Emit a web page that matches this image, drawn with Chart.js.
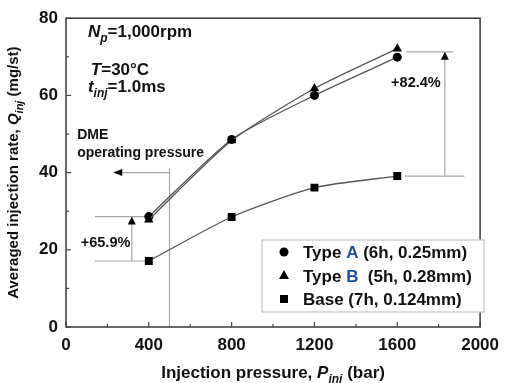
<!DOCTYPE html>
<html lang="en">
<head>
<meta charset="UTF-8" />
<title>Averaged injection rate vs injection pressure</title>
<script src="https://cdn.jsdelivr.net/npm/chart.js"></script>
<style>
  html, body { margin: 0; padding: 0; background: #fff; }
</style>
</head>
<body>
<canvas id="chart" width="507" height="383"></canvas>
<script>
// data
const pressure = [400, 800, 1200, 1600];
const typeA = [28.6, 48.6, 60.0, 69.9];
const typeB = [27.8, 48.3, 61.8, 72.1];
const base = [17.1, 28.5, 36.1, 39.1];
const seriesNames = ['Type A', 'Type B', 'Base'];
const seriesSpecs = [' (6h, 0.25mm)', '  (5h, 0.28mm)', ' (7h, 0.124mm)'];
const xTicks = [0, 400, 800, 1200, 1600, 2000];
const xMinor = [200, 600, 1000, 1400, 1800];
const yTicks = [0, 20, 40, 60, 80];
const yMinor = [10, 30, 50, 70];
const gainLabels = ['+65.9%', '+82.4%'];
const dmePressure = 500;

const FONT = '"Liberation Sans", Arial, sans-serif';
const INK = '#111';
const GUIDE = '#a8a8a8';

function pts(ys) {
    return pressure.map((p, i) => ({ x: p, y: ys[i] }));
}

// draw text made of pieces (italic / subscript / colour)
function drawRich(ctx, x, y, parts, size, align) {
    const segs = parts.map(p => {
        const fs = p.sub ? Math.round(size * 0.7) : size;
        const font = (p.italic || p.sub ? 'italic ' : '') + 'bold ' + fs + 'px ' + FONT;
        ctx.font = font;
        return { t: p.t, font, w: ctx.measureText(p.t).width, dy: p.sub ? size * 0.32 : 0, color: p.color || INK };
    });
    const total = segs.reduce((s, g) => s + g.w, 0);
    let cx = align === 'center' ? x - total / 2 : x;
    ctx.textAlign = 'left';
    ctx.textBaseline = 'alphabetic';
    segs.forEach(g => {
        ctx.font = g.font;
        ctx.fillStyle = g.color;
        ctx.fillText(g.t, cx, y + g.dy);
        cx += g.w;
    });
}

function arrowHead(ctx, x, y, dir) {
    ctx.fillStyle = '#000';
    ctx.beginPath();
    if (dir === 'up') {
        ctx.moveTo(x, y); ctx.lineTo(x - 4, y + 8); ctx.lineTo(x + 4, y + 8);
    } else {
        ctx.moveTo(x, y); ctx.lineTo(x + 9, y - 3.5); ctx.lineTo(x + 9, y + 3.5);
    }
    ctx.closePath();
    ctx.fill();
}

function hLine(ctx, x1, x2, y) {
    ctx.beginPath(); ctx.moveTo(x1, y); ctx.lineTo(x2, y); ctx.stroke();
}
function vLine(ctx, x, y1, y2) {
    ctx.beginPath(); ctx.moveTo(x, y1); ctx.lineTo(x, y2); ctx.stroke();
}

function marker(ctx, style, x, y) {
    ctx.fillStyle = '#000';
    ctx.beginPath();
    if (style === 'circle') {
        ctx.arc(x, y, 4.5, 0, Math.PI * 2);
    } else if (style === 'triangle') {
        ctx.moveTo(x, y - 5.5); ctx.lineTo(x + 5, y + 3.5); ctx.lineTo(x - 5, y + 3.5); ctx.closePath();
    } else {
        ctx.rect(x - 4, y - 4, 8, 8);
    }
    ctx.fill();
}

// guide lines and arrows, under the curves
const guidesPlugin = {
    id: 'guides',
    beforeDatasetsDraw(chart) {
        const { ctx, scales: { x, y } } = chart;
        ctx.save();
        ctx.strokeStyle = GUIDE;
        ctx.lineWidth = 1.2;
        // DME operating pressure
        vLine(ctx, x.getPixelForValue(dmePressure), y.getPixelForValue(41.2), y.getPixelForValue(0));
        hLine(ctx, x.getPixelForValue(235), x.getPixelForValue(dmePressure), y.getPixelForValue(40));
        arrowHead(ctx, x.getPixelForValue(228), y.getPixelForValue(40), 'left');
        // gain at 400 bar
        hLine(ctx, x.getPixelForValue(140), x.getPixelForValue(400), y.getPixelForValue(typeA[0]));
        hLine(ctx, x.getPixelForValue(140), x.getPixelForValue(400), y.getPixelForValue(base[0]));
        vLine(ctx, x.getPixelForValue(318), y.getPixelForValue(base[0]), y.getPixelForValue(typeA[0]) + 6);
        arrowHead(ctx, x.getPixelForValue(318), y.getPixelForValue(typeA[0]), 'up');
        // gain at 1600 bar
        hLine(ctx, x.getPixelForValue(1645), x.getPixelForValue(1870), y.getPixelForValue(71.3));
        hLine(ctx, x.getPixelForValue(1635), x.getPixelForValue(1925), y.getPixelForValue(base[3]));
        vLine(ctx, x.getPixelForValue(1830), y.getPixelForValue(base[3]), y.getPixelForValue(71.3) + 6);
        arrowHead(ctx, x.getPixelForValue(1830), y.getPixelForValue(71.3), 'up');
        ctx.restore();
    },
    afterDraw(chart) {
        const { ctx, chartArea: a, scales: { x, y } } = chart;
        ctx.save();
        // frame
        ctx.strokeStyle = '#444';
        ctx.lineWidth = 1.6;
        ctx.strokeRect(a.left, a.top, a.right - a.left, a.bottom - a.top);
        // inward tick marks
        ctx.lineWidth = 1.2;
        xTicks.concat(xMinor).forEach(v => {
            const px = x.getPixelForValue(v);
            vLine(ctx, px, a.bottom, a.bottom - (xTicks.includes(v) ? 5 : 3));
        });
        yTicks.concat(yMinor).forEach(v => {
            const py = y.getPixelForValue(v);
            hLine(ctx, a.left, a.left + (yTicks.includes(v) ? 5 : 3), py);
        });

        // run conditions
        drawRich(ctx, x.getPixelForValue(106), 37, [{ t: 'N', italic: true }, { t: 'p', sub: true }, { t: '=1,000rpm' }], 17);
        drawRich(ctx, x.getPixelForValue(120), 75, [{ t: 'T', italic: true }, { t: '=30°C' }], 17);
        drawRich(ctx, x.getPixelForValue(106), 92, [{ t: 't', italic: true }, { t: 'inj', sub: true }, { t: '=1.0ms' }], 17);

        // DME note and gains
        drawRich(ctx, x.getPixelForValue(54), y.getPixelForValue(48.6), [{ t: 'DME' }], 14);
        drawRich(ctx, x.getPixelForValue(54), y.getPixelForValue(44.0), [{ t: 'operating pressure' }], 14);
        drawRich(ctx, x.getPixelForValue(191), y.getPixelForValue(20.8), [{ t: gainLabels[0] }], 14.5, 'center');
        drawRich(ctx, x.getPixelForValue(1690), y.getPixelForValue(62.2), [{ t: gainLabels[1] }], 14.5, 'center');

        // legend
        const lx = 262, ly = 240, lw = 222, lh = 72;
        ctx.fillStyle = '#fff';
        ctx.fillRect(lx, ly, lw, lh);
        ctx.strokeStyle = '#c4c4c4';
        ctx.lineWidth = 1.2;
        ctx.strokeRect(lx, ly, lw, lh);
        const styles = ['circle', 'triangle', 'rect'];
        seriesNames.forEach((name, i) => {
            const cy = ly + 12 + i * 23.5;
            marker(ctx, styles[i], lx + 22, cy);
            let parts;
            if (i < 2) {
                const [w, letter] = name.split(' ');
                parts = [{ t: w + ' ' }, { t: letter, color: '#1d4f9c' }, { t: seriesSpecs[i] }];
            } else {
                parts = [{ t: name + seriesSpecs[i] }];
            }
            drawRich(ctx, lx + 41, cy + 6, parts, 17);
        });

        // axis titles
        const midX = (a.left + a.right) / 2;
        drawRich(ctx, midX, 378, [{ t: 'Injection pressure, ' }, { t: 'P', italic: true }, { t: 'inj', sub: true }, { t: ' (bar)' }], 17, 'center');
        ctx.translate(18, (a.top + a.bottom) / 2);
        ctx.rotate(-Math.PI / 2);
        drawRich(ctx, 0, 0, [{ t: 'Averaged injection rate, ' }, { t: 'Q', italic: true }, { t: 'inj', sub: true }, { t: ' (mg/st)' }], 15, 'center');
        ctx.restore();
    }
};

function lineSet(label, ys, style, radius) {
    return {
        label,
        data: pts(ys),
        borderColor: '#555',
        borderWidth: 1.3,
        pointStyle: style,
        pointRadius: radius,
        pointBackgroundColor: '#000',
        pointBorderColor: '#000',
        pointBorderWidth: 0,
        tension: 0.22,
        fill: false
    };
}

new Chart(document.getElementById('chart'), {
    type: 'line',
    data: {
        datasets: [
            lineSet(seriesNames[1], typeB, 'triangle', 5.5),
            lineSet(seriesNames[0], typeA, 'circle', 4.5),
            lineSet(seriesNames[2], base, 'rect', 5.6)
        ]
    },
    options: {
        responsive: false,
        animation: false,
        devicePixelRatio: 1,
        layout: { padding: { top: 16, right: 18, left: 0, bottom: 0 } },
        plugins: { legend: { display: false }, tooltip: { enabled: false } },
        scales: {
            x: {
                type: 'linear', min: 0, max: 2000,
                afterBuildTicks: s => { s.ticks = xTicks.map(v => ({ value: v })); },
                ticks: { font: { family: FONT, size: 17, weight: 'bold' }, color: INK, padding: 8, maxRotation: 0, callback: v => String(v) },
                grid: { display: false, drawTicks: false },
                border: { display: false },
                afterFit: s => { s.height = 56; }
            },
            y: {
                min: 0, max: 80,
                afterBuildTicks: s => { s.ticks = yTicks.map(v => ({ value: v })); },
                ticks: { font: { family: FONT, size: 17, weight: 'bold' }, color: INK, padding: 8, callback: v => String(v) },
                grid: { display: false, drawTicks: false },
                border: { display: false },
                afterFit: s => { s.width = 66; }
            }
        }
    },
    plugins: [guidesPlugin]
});
</script>
</body>
</html>
